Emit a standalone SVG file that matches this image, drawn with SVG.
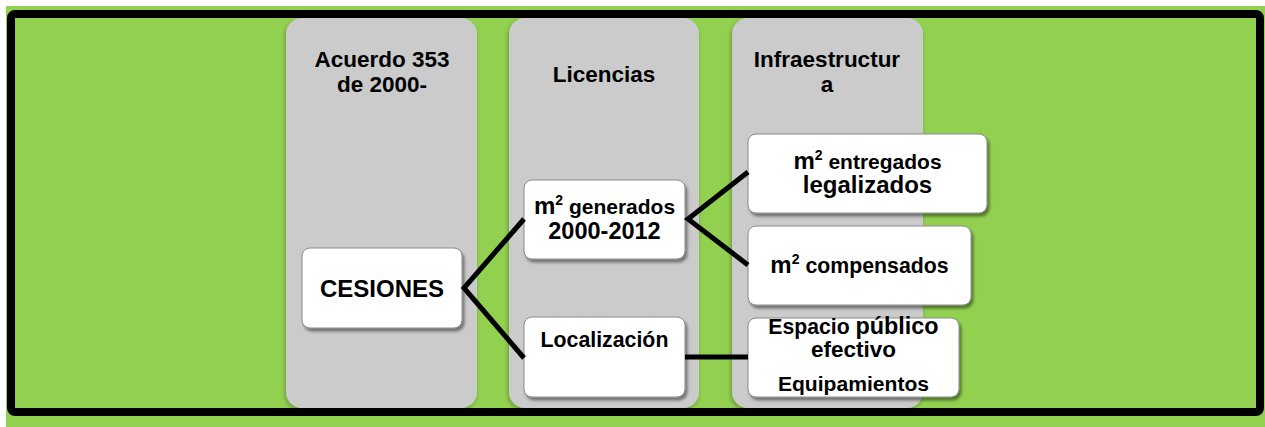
<svg xmlns="http://www.w3.org/2000/svg" width="1265" height="427" viewBox="0 0 1265 427">
  <defs>
    <filter id="sh" x="-10%" y="-10%" width="125%" height="130%">
      <feGaussianBlur in="SourceAlpha" stdDeviation="1.5"/>
      <feOffset dx="2" dy="3" result="b"/>
      <feComponentTransfer><feFuncA type="linear" slope="0.45"/></feComponentTransfer>
      <feMerge><feMergeNode/><feMergeNode in="SourceGraphic"/></feMerge>
    </filter>
    <filter id="csh" x="-10%" y="-5%" width="120%" height="110%">
      <feGaussianBlur in="SourceAlpha" stdDeviation="2"/>
      <feOffset dx="-1" dy="2" result="b"/>
      <feComponentTransfer><feFuncA type="linear" slope="0.3"/></feComponentTransfer>
      <feMerge><feMergeNode/><feMergeNode in="SourceGraphic"/></feMerge>
    </filter>
    <style>
      .col { fill: #CBCBCB; }
      .node { fill: #FFFFFF; stroke: #8A8A8A; stroke-width: 1; }
      .t { font-family: "Liberation Sans", Arial, sans-serif; font-weight: bold; fill: #000; text-anchor: middle; }
      .h { font-size: 22.5px; }
      .conn { fill: none; stroke: #000; stroke-width: 5; stroke-linejoin: miter; }
    </style>
  </defs>

  <rect x="6" y="6" width="1259" height="421" fill="#92D050"/>

  <g id="col-acuerdo">
    <rect class="col" x="286" y="18" width="191" height="390" rx="16" filter="url(#csh)"/>
    <text class="t h" x="382" y="66.5">Acuerdo 353</text>
    <text class="t h" x="382" y="91.5">de 2000-</text>
  </g>
  <g id="col-licencias">
    <rect class="col" x="509" y="18" width="190" height="390" rx="16" filter="url(#csh)"/>
    <text class="t h" x="604" y="82">Licencias</text>
  </g>
  <g id="col-infra">
    <rect class="col" x="732" y="18" width="191" height="390" rx="16" filter="url(#csh)"/>
    <text class="t h" x="827" y="66.5">Infraestructur</text>
    <text class="t h" x="827" y="91.5">a</text>
  </g>

  <rect x="11" y="14" width="1249" height="398" rx="4" fill="none" stroke="#000" stroke-width="8"/>

  <g id="node-cesiones">
    <rect class="node" x="302" y="248" width="160" height="80" rx="8" filter="url(#sh)"/>
    <text class="t" x="382" y="297" font-size="24">CESIONES</text>
  </g>
  <g id="node-generados">
    <rect class="node" x="524" y="180" width="161" height="79" rx="8" filter="url(#sh)"/>
    <text class="t" x="604.5" y="214" font-size="21"><tspan font-size="24">m</tspan><tspan font-size="14" dy="-9">2</tspan><tspan dy="9"> generados</tspan></text>
    <text class="t" x="604.5" y="239" font-size="23.5">2000-2012</text>
  </g>
  <g id="node-localizacion">
    <rect class="node" x="524" y="317" width="161" height="80" rx="8" filter="url(#sh)"/>
    <text class="t" x="604.5" y="347" font-size="21.3">Localización</text>
  </g>
  <g id="node-entregados">
    <rect class="node" x="748" y="134" width="239" height="79" rx="8" filter="url(#sh)"/>
    <text class="t" x="867.5" y="169" font-size="21"><tspan font-size="24">m</tspan><tspan font-size="14" dy="-9">2</tspan><tspan dy="9"> entregados</tspan></text>
    <text class="t" x="867.5" y="193" font-size="24">legalizados</text>
  </g>
  <g id="node-compensados">
    <rect class="node" x="748" y="226" width="223" height="79" rx="8" filter="url(#sh)"/>
    <text class="t" x="859.5" y="273" font-size="21.3"><tspan font-size="24">m</tspan><tspan font-size="14" dy="-9">2</tspan><tspan dy="9"> compensados</tspan></text>
  </g>
  <g id="node-espacio">
    <rect class="node" x="748" y="318" width="211" height="79" rx="8" filter="url(#sh)"/>
    <text class="t" x="853.5" y="334" font-size="21.2">Espacio <tspan font-size="23.4">público</tspan></text>
    <text class="t" x="853.5" y="357" font-size="22.5">efectivo</text>
    <text class="t" x="853.5" y="391" font-size="21.1">Equipamientos</text>
  </g>

  <g id="connectors">
    <path class="conn" d="M524,219 L464,288 L524,358"/>
    <path class="conn" d="M748,172 L688,219 L748,265"/>
    <path class="conn" d="M685,357 H748"/>
  </g>
</svg>
